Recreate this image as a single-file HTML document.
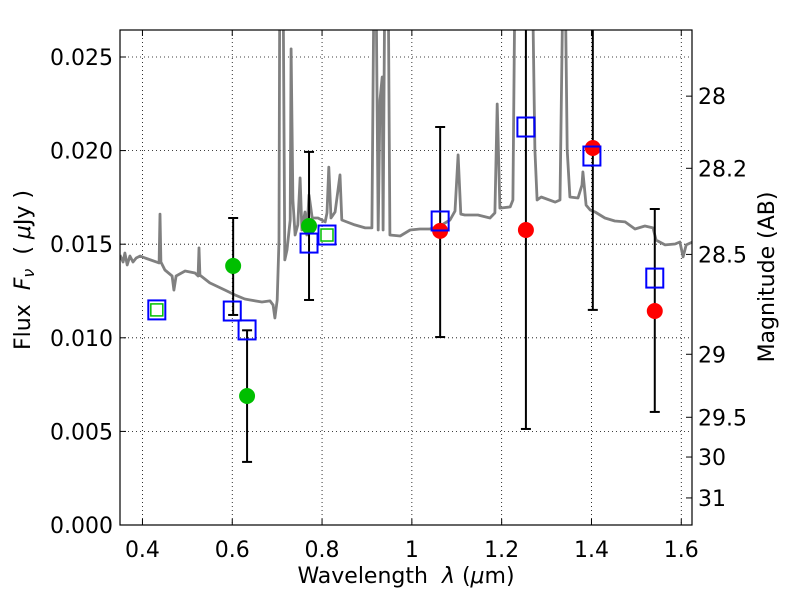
<!DOCTYPE html>
<html><head><meta charset="utf-8"><style>
body{margin:0;background:#fff}
svg text{font-family:"DejaVu Sans","Liberation Sans",sans-serif;fill:#000;white-space:pre}
</style></head><body>
<svg id="chart" width="800" height="600" xmlns="http://www.w3.org/2000/svg">
<defs><clipPath id="clip"><rect x="120" y="30" width="572" height="495"/></clipPath></defs>
<rect x="0" y="0" width="800" height="600" fill="#fff"/>
<g id="grid"></g>
<g id="spec" clip-path="url(#clip)"></g>
<g id="marks" clip-path="url(#clip)"></g>
<rect x="120" y="30" width="572" height="495" fill="none" stroke="#000" stroke-width="1.2"/>
<g id="axes"></g>
<text x="406" y="583" font-size="22" text-anchor="middle">Wavelength  <tspan font-style="italic">λ</tspan> (<tspan font-style="italic">μ</tspan>m)</text>
<text transform="translate(30,270) rotate(-90)" font-size="22" text-anchor="middle">Flux  <tspan font-style="italic">F</tspan><tspan font-style="italic" font-size="16" dy="4">ν</tspan><tspan dy="-4">  ( </tspan><tspan font-style="italic">μ</tspan>Jy )</text>
<text transform="translate(774,277) rotate(-90)" font-size="22" text-anchor="middle">Magnitude (AB)</text>
</svg>
<script>
const xTicks=[0.4,0.6,0.8,1.0,1.2,1.4,1.6];
const xTickLabels=["0.4","0.6","0.8","1","1.2","1.4","1.6"];
const yTicks=[0,0.005,0.01,0.015,0.02,0.025];
const yTickLabels=["0.000","0.005","0.010","0.015","0.020","0.025"];
const magTicks=[28,28.2,28.5,29,29.5,30,31];
const magTickLabels=["28","28.2","28.5","29","29.5","30","31"];
const specWave=[0.350,0.357,0.361,0.366,0.372,0.379,0.386,0.395,0.406,0.437,0.439,0.441,0.450,0.466,0.470,0.475,0.495,0.517,0.524,0.526,0.528,0.550,0.584,0.606,0.628,0.640,0.666,0.684,0.691,0.695,0.700,0.704,0.706,0.713,0.717,0.722,0.729,0.731,0.735,0.740,0.746,0.751,0.755,0.762,0.766,0.771,0.778,0.791,0.807,0.811,0.815,0.820,0.829,0.840,0.844,0.873,0.896,0.911,0.916,0.920,0.925,0.929,0.934,0.936,0.940,0.947,0.951,0.974,0.996,1.018,1.040,1.063,1.085,1.096,1.103,1.109,1.118,1.147,1.174,1.185,1.190,1.196,1.219,1.225,1.230,1.241,1.259,1.268,1.274,1.279,1.288,1.319,1.330,1.337,1.341,1.346,1.352,1.370,1.379,1.381,1.388,1.397,1.408,1.430,1.452,1.475,1.497,1.519,1.537,1.544,1.564,1.586,1.597,1.604,1.611,1.625];
const specFlux=[0.01442,0.01405,0.01453,0.01389,0.01437,0.01405,0.01426,0.01437,0.01426,0.01400,0.01661,0.01405,0.01362,0.01330,0.01255,0.01330,0.01357,0.01346,0.01330,0.01480,0.01335,0.01293,0.01255,0.01229,0.01207,0.01202,0.01191,0.01197,0.01175,0.01106,0.01202,0.01522,0.0300,0.0300,0.01416,0.01469,0.01629,0.02543,0.01736,0.01549,0.01603,0.01854,0.01576,0.01672,0.01549,0.01763,0.01640,0.01640,0.01619,0.01667,0.01912,0.01640,0.01672,0.01870,0.01629,0.01603,0.01587,0.01587,0.0300,0.0300,0.01576,0.02270,0.02393,0.01576,0.0300,0.0300,0.01549,0.01544,0.01576,0.01581,0.01581,0.01597,0.01629,0.01677,0.01977,0.01661,0.01656,0.01656,0.01640,0.01667,0.02249,0.01693,0.01699,0.01736,0.0300,0.0300,0.0300,0.0300,0.02003,0.01736,0.01752,0.01725,0.01736,0.0300,0.0300,0.02003,0.01752,0.01747,0.01816,0.01886,0.01709,0.01683,0.01672,0.01640,0.01624,0.01619,0.01581,0.01597,0.01587,0.01522,0.01496,0.01501,0.01512,0.01432,0.01496,0.01512];
const errWave=[0.602,0.633,0.771,1.063,1.254,1.403,1.541];
const errLow=[0.01122,0.00337,0.01202,0.01004,0.00513,0.01149,0.00604];
const errHigh=[0.0164,0.0104,0.01993,0.02126,0.030,0.030,0.01688];
const greenWave=[0.602,0.633,0.771];
const greenFlux=[0.01384,0.00689,0.01597];
const greenSqWave=[0.432,0.811];
const greenSqFlux=[0.01149,0.01549];
const blueWave=[0.432,0.600,0.633,0.771,0.811,1.063,1.254,1.401,1.541];
const blueFlux=[0.01149,0.01143,0.01042,0.01506,0.01549,0.01624,0.02126,0.01971,0.01319];
const redWave=[1.063,1.254,1.403,1.541];
const redFlux=[0.01571,0.01576,0.02014,0.01143];

const X0=120,X1=692,Y0=525,Y1=30,XMIN=0.35,XMAX=1.6239,YMIN=0,YMAX=0.026442;
const sx=v=>X0+(v-XMIN)/(XMAX-XMIN)*(X1-X0);
const sy=v=>Y0-(v-YMIN)/(YMAX-YMIN)*(Y0-Y1);
const magToFlux=m=>Math.pow(10,(23.9-m)/2.5);
const NS="http://www.w3.org/2000/svg";
function mk(tag,attrs,parent){const e=document.createElementNS(NS,tag);for(const k in attrs)e.setAttribute(k,attrs[k]);parent.appendChild(e);return e;}
const grid=document.getElementById('grid'),axes=document.getElementById('axes'),spec=document.getElementById('spec'),marks=document.getElementById('marks');
xTicks.forEach((t,i)=>{const x=sx(t);
 const g=mk('line',{x1:x,x2:x,y1:Y1,y2:Y0,stroke:'#000','stroke-width':0.8,'stroke-dasharray':'1,3'},grid);
 
 
 mk('line',{x1:x,x2:x,y1:Y0,y2:Y0-6,stroke:'#000'},axes);
 mk('line',{x1:x,x2:x,y1:Y1,y2:Y1+6,stroke:'#000'},axes);
 const tx=mk('text',{x:x,y:557,'font-size':22,'text-anchor':'middle'},axes);tx.textContent=xTickLabels[i];
 
 });
yTicks.forEach((t,i)=>{const y=sy(t);
 const g=mk('line',{x1:X0,x2:X1,y1:y,y2:y,stroke:'#000','stroke-width':0.8,'stroke-dasharray':'1,3'},grid);
 
 
 mk('line',{x1:X0,x2:X0+6,y1:y,y2:y,stroke:'#000'},axes);
 const tx=mk('text',{x:113,y:y+8,'font-size':22,'text-anchor':'end'},axes);tx.textContent=yTickLabels[i];
 
 });
magTicks.forEach((m,i)=>{const y=sy(magToFlux(m));
 mk('line',{x1:X1,x2:X1-6,y1:y,y2:y,stroke:'#000'},axes);
 const tx=mk('text',{x:698,y:y+8,'font-size':22},axes);tx.textContent=magTickLabels[i];
 
 });
const pts=specWave.map((w,i)=>sx(w).toFixed(1)+','+sy(specFlux[i]).toFixed(1)).join(' ');
const pl=mk('polyline',{points:pts,fill:'none',stroke:'#808080','stroke-width':2.8,'stroke-linejoin':'round'},spec);


errWave.forEach((w,i)=>{const x=sx(w),a=sy(errLow[i]),b=sy(errHigh[i]);
 const l=mk('line',{x1:x,x2:x,y1:a,y2:b,stroke:'#000','stroke-width':2},marks);
 
 
 mk('line',{x1:x-5,x2:x+5,y1:a,y2:a,stroke:'#000','stroke-width':2},marks);
 mk('line',{x1:x-5,x2:x+5,y1:b,y2:b,stroke:'#000','stroke-width':2},marks);});
greenSqWave.forEach((w,i)=>{const x=sx(w),y=sy(greenSqFlux[i]);
 const r=mk('rect',{x:x-6,y:y-6,width:12,height:12,fill:'#fff',stroke:'#00c000','stroke-width':1.5},marks);
 
 });
greenWave.forEach((w,i)=>{
 const c=mk('circle',{cx:sx(w),cy:sy(greenFlux[i]),r:8,fill:'#00bf00'},marks);
 
 });
redWave.forEach((w,i)=>{
 const c=mk('circle',{cx:sx(w),cy:sy(redFlux[i]),r:8,fill:'#ff0000'},marks);
 
 });
blueWave.forEach((w,i)=>{const x=sx(w),y=sy(blueFlux[i]);
 const r=mk('rect',{x:x-8.5,y:y-9.5,width:17,height:19,fill:'none',stroke:'#0000ff','stroke-width':2},marks);
 
 });
</script>
</body></html>
